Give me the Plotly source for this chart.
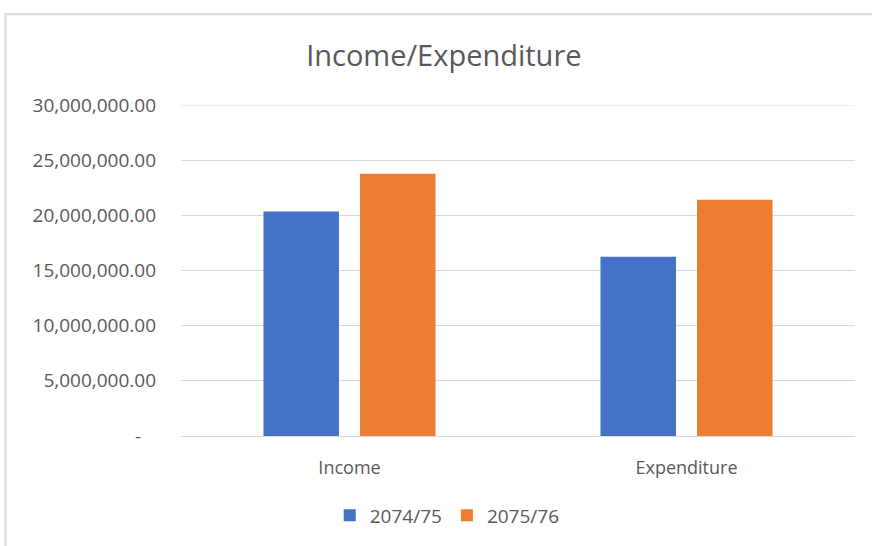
import plotly.graph_objects as go

categories = ["Income", "Expenditure"]
series_names = ["2074/75", "2075/76"]
values_2074_75 = [20340000, 16250000]
values_2075_76 = [23780000, 21420000]
colors = ["#4472C4", "#ED7D31"]
tick_values = [0, 5000000, 10000000, 15000000, 20000000, 25000000, 30000000]
tick_labels = ["-\u00a0\u00a0\u00a0" if v == 0 else f"{v:,.2f}" for v in tick_values]

W, H = 872, 546
L, R, T, B = 181, 17, 105, 107

fig = go.Figure()
for name, vals, col in zip(series_names, [values_2074_75, values_2075_76], colors):
    fig.add_trace(go.Bar(x=categories, y=vals, name=name, marker=dict(color=col, line=dict(width=0))))

pw = W - L - R
ph = H - T - B
def px2x(px):
    return (px - L) / pw
def py2y(py):
    return (H - B - py) / ph

fig.update_layout(
    width=W, height=H,
    margin=dict(l=L, r=R, t=T, b=B),
    paper_bgcolor="white", plot_bgcolor="white",
    font=dict(family="Open Sans, Liberation Sans, sans-serif", color="#595959", size=15),
    title=dict(text="Income/Expenditure", x=0.509, xanchor="center", y=1 - 56 / H, yanchor="middle",
               font=dict(size=29, color="#595959")),
    barmode="group", bargap=0.427, bargroupgap=0.218,
    showlegend=True,
    legend=dict(orientation="h", x=0.395, xanchor="center", y=py2y(519), yanchor="middle",
                font=dict(size=19, color="#595959"), itemwidth=30, tracegroupgap=0),
    xaxis=dict(showgrid=False, showline=False, ticks="", ticklabelstandoff=19,
               tickfont=dict(size=18, color="#595959")),
    yaxis=dict(range=[0, tick_values[-1]], tickvals=tick_values, ticktext=tick_labels, showgrid=True,
               gridcolor="#d9d9d9", gridwidth=1, zeroline=True, zerolinecolor="#d9d9d9", zerolinewidth=1,
               ticks="", ticklabelstandoff=24, tickfont=dict(size=19, color="#595959")),
    shapes=[
        dict(type="line", xref="paper", yref="y", x0=0, x1=1, y0=tick_values[-1], y1=tick_values[-1],
             line=dict(color="#d9d9d9", width=1), layer="below"),
        dict(type="line", xref="paper", yref="paper", x0=px2x(5), x1=px2x(W + 5), y0=py2y(13.5), y1=py2y(13.5),
             line=dict(color="#d9d9d9", width=2)),
        dict(type="line", xref="paper", yref="paper", x0=px2x(5.5), x1=px2x(5.5), y0=py2y(13), y1=py2y(H + 5),
             line=dict(color="#d9d9d9", width=2)),
    ],
)

fig.write_html("out.html")
